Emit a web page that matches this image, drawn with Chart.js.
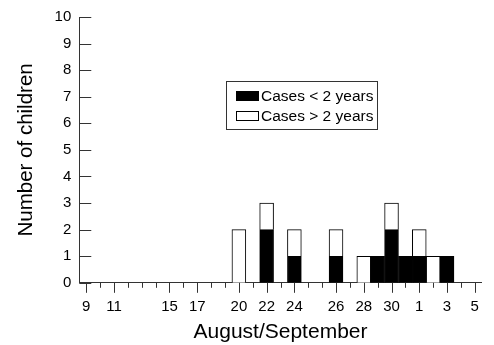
<!DOCTYPE html>
<html>
<head>
<meta charset="utf-8">
<script src="https://cdn.jsdelivr.net/npm/chart.js@4"></script>
<style>
html, body { margin: 0; padding: 0; background: #fff; }
#wrap { width: 494px; height: 345px; }
</style>
</head>
<body>
<div id="wrap"><canvas id="casesChart"></canvas></div>
<script>
// one category per day, 9 Aug .. 5 Sep (as drawn on the original axis)
const days = ['9', '', '11', '', '', '', '15', '', '17', '', '', '20', '', '22', '',
              '24', '', '', '26', '', '28', '', '30', '', '1', '', '3', '', '5'];
const under2 = [0, 0, 0, 0, 0, 0, 0, 0, 0, 0, 0, 0, 0, 2, 0,
                1, 0, 0, 1, 0, 0, 1, 2, 1, 1, 0, 1, 0, 0];
const over2 = [0, 0, 0, 0, 0, 0, 0, 0, 0, 0, 0, 2, 0, 1, 0,
               1, 0, 0, 1, 0, 1, 0, 1, 0, 1, 1, 0, 0, 0];
const seriesNames = ['Cases < 2 years', 'Cases > 2 years'];
const yTicks = [0, 1, 2, 3, 4, 5, 6, 7, 8, 9, 10];

const FONT = '"Liberation Sans", Arial, sans-serif';
const AXIS = '#333';

// ticks drawn by hand: long ones under labelled days, y ticks pointing inward
const axisMarks = {
    id: 'axisMarks',
    afterDraw(chart) {
        const ctx = chart.ctx;
        const x = chart.scales.x, y = chart.scales.y;
        ctx.save();
        ctx.strokeStyle = AXIS;
        ctx.lineWidth = 1;
        ctx.beginPath();
        x.ticks.forEach((t, i) => {
            const px = Math.round(x.getPixelForTick(i)) + 0.5;
            const len = chart.data.labels[i] ? 10 : 5;
            ctx.moveTo(px, x.top);
            ctx.lineTo(px, x.top + len);
        });
        y.ticks.forEach((t, i) => {
            const py = Math.round(y.getPixelForTick(i)) + 0.5;
            ctx.moveTo(y.right, py);
            ctx.lineTo(y.right + 12, py);
        });
        ctx.stroke();

        // boxed legend inside the plot
        const a = chart.chartArea;
        const bx = Math.round(a.left + 147), by = Math.round(a.top + 64);
        const bw = 151, bh = 48;
        ctx.fillStyle = '#fff';
        ctx.fillRect(bx, by, bw, bh);
        ctx.strokeStyle = AXIS;
        ctx.strokeRect(bx + 0.5, by + 0.5, bw, bh);
        ctx.font = '15.5px ' + FONT;
        ctx.textBaseline = 'middle';
        chart.data.datasets.forEach((ds, i) => {
            const ry = by + 10 + i * 20;
            ctx.fillStyle = ds.backgroundColor;
            ctx.fillRect(bx + 10, ry, 23, 10);
            ctx.strokeStyle = '#000';
            ctx.strokeRect(bx + 10.5, ry + 0.5, 22, 9);
            ctx.fillStyle = '#000';
            ctx.fillText(ds.label, bx + 35, ry + 5.5);
        });
        ctx.restore();
    }
};

const ctx = document.getElementById('casesChart').getContext('2d');
new Chart(ctx, {
    type: 'bar',
    data: {
        labels: days,
        datasets: [{
            label: seriesNames[0],
            data: under2.map(v => v || null),
            backgroundColor: '#000',
            borderColor: '#000',
            borderWidth: 1,
            barPercentage: 1,
            categoryPercentage: 1
        }, {
            label: seriesNames[1],
            data: over2.map(v => v || null),
            backgroundColor: '#fff',
            borderColor: '#000',
            borderWidth: 1,
            barPercentage: 1,
            categoryPercentage: 1
        }]
    },
    options: {
        responsive: true,
        maintainAspectRatio: false,
        animation: false,
        layout: { padding: { top: 12, right: 2, left: 14, bottom: 0 } },
        plugins: {
            legend: { display: false },
            tooltip: { enabled: false }
        },
        scales: {
            x: {
                stacked: true,
                grid: { display: false, drawTicks: false, offset: false },
                border: { display: true, color: AXIS, width: 1 },
                ticks: {
                    autoSkip: false,
                    maxRotation: 0,
                    padding: 15,
                    color: '#000',
                    font: { family: FONT, size: 15 }
                },
                title: {
                    display: true,
                    text: 'August/September',
                    color: '#000',
                    padding: { top: -11, bottom: 0 },
                    font: { family: FONT, size: 21 }
                }
            },
            y: {
                stacked: true,
                min: 0,
                max: 10,
                afterBuildTicks: axis => { axis.ticks = yTicks.map(v => ({ value: v })); },
                grid: { display: false, drawTicks: false },
                border: { display: true, color: AXIS, width: 1 },
                ticks: {
                    padding: 8,
                    color: '#000',
                    font: { family: FONT, size: 15 }
                },
                title: {
                    display: true,
                    text: 'Number of children',
                    color: '#000',
                    padding: { top: 0, bottom: 8 },
                    font: { family: FONT, size: 20.5 }
                }
            }
        }
    },
    plugins: [axisMarks]
});
</script>
</body>
</html>
